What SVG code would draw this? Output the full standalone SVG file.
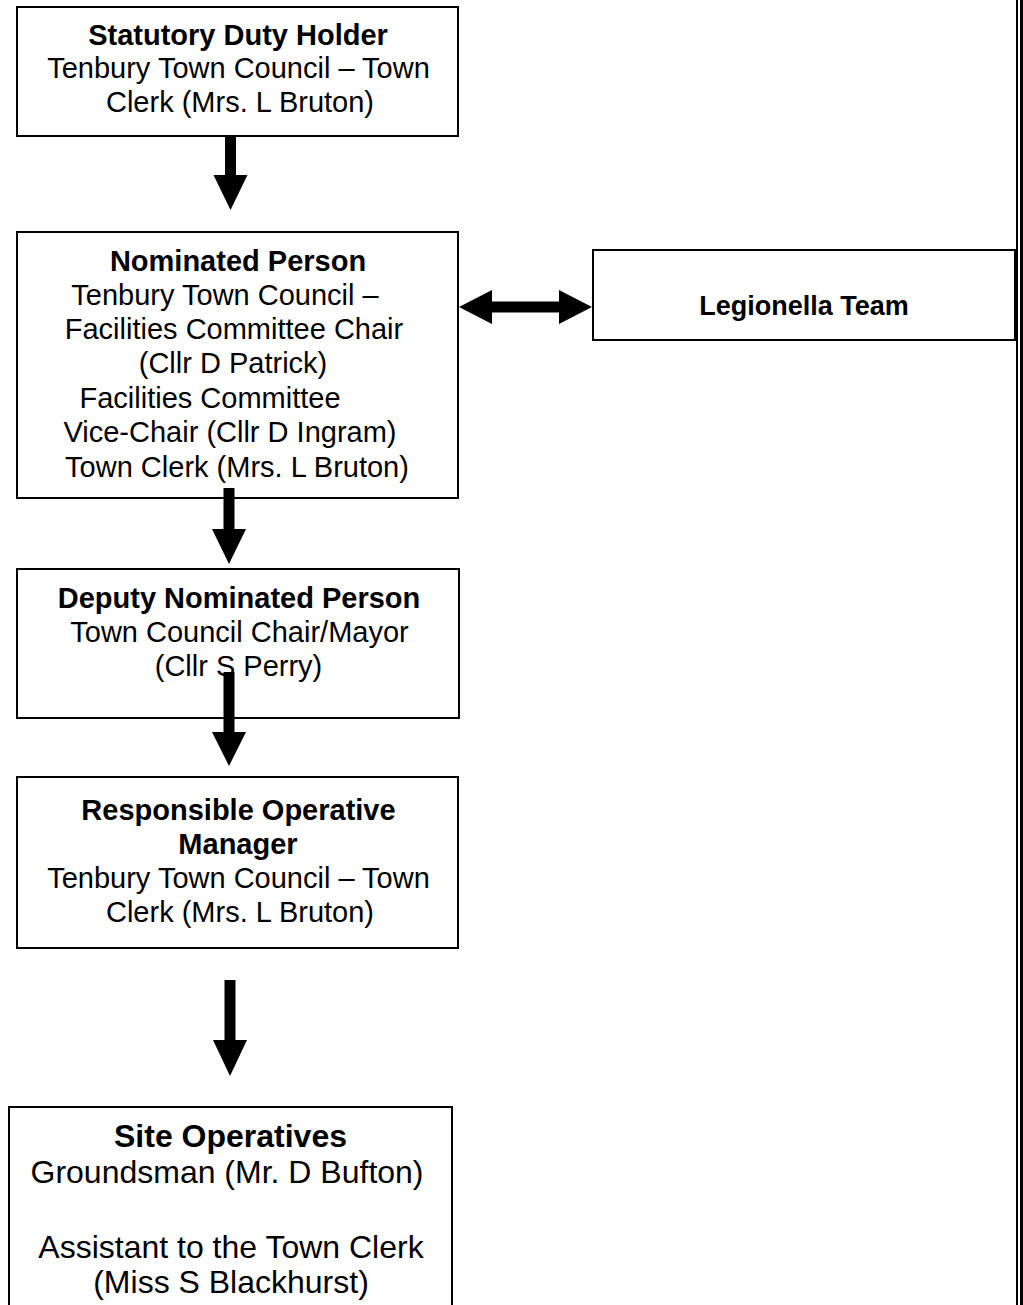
<svg xmlns="http://www.w3.org/2000/svg" width="1023" height="1305" viewBox="0 0 1023 1305">
<style>
.box{fill:#fff;stroke:#000;stroke-width:2}
.t{font-family:"Liberation Sans",Arial,sans-serif;font-size:29px;fill:#000;text-anchor:middle}
.b{font-weight:bold}
.s{font-size:32px}
.arr{fill:#000}
</style>
<rect width="1023" height="1305" fill="#fff"/>
<g id="page-border">
<rect x="1016" y="0" width="2" height="1305" fill="#000"/>
<rect x="1020" y="0" width="3" height="1305" fill="#000"/>
</g>
<g id="node-statutory">
<rect class="box" x="17" y="7" width="441" height="129"/>
<text class="t b" x="238" y="45">Statutory Duty Holder</text>
<text class="t" x="238.5" y="78">Tenbury Town Council – Town</text>
<text class="t" x="240" y="112">Clerk (Mrs. L Bruton)</text>
</g>
<g id="node-nominated">
<rect class="box" x="17" y="232" width="441" height="266"/>
<text class="t b" x="238" y="271">Nominated Person</text>
<text class="t" x="225" y="305">Tenbury Town Council –</text>
<text class="t" x="234" y="339">Facilities Committee Chair</text>
<text class="t" x="233" y="373">(Cllr D Patrick)</text>
<text class="t" x="210" y="408">Facilities Committee</text>
<text class="t" x="230" y="442">Vice-Chair (Cllr D Ingram)</text>
<text class="t" x="237" y="477">Town Clerk (Mrs. L Bruton)</text>
</g>
<g id="node-legionella">
<rect class="box" x="593" y="250" width="422" height="90"/>
<text class="t b" x="804" y="315" style="font-size:27px">Legionella Team</text>
</g>
<g id="node-deputy">
<rect class="box" x="17" y="569" width="442" height="149"/>
<text class="t b" x="239" y="608">Deputy Nominated Person</text>
<text class="t" x="239.5" y="642">Town Council Chair/Mayor</text>
<text class="t" x="238.5" y="676">(Cllr S Perry)</text>
</g>
<g id="node-responsible">
<rect class="box" x="17" y="777" width="441" height="171"/>
<text class="t b" x="238.5" y="820">Responsible Operative</text>
<text class="t b" x="238" y="854">Manager</text>
<text class="t" x="238.5" y="888">Tenbury Town Council – Town</text>
<text class="t" x="240" y="922">Clerk (Mrs. L Bruton)</text>
</g>
<g id="node-site">
<rect class="box" x="9" y="1107" width="443" height="220"/>
<text class="t b s" x="230.5" y="1147">Site Operatives</text>
<text class="t s" x="227" y="1183">Groundsman (Mr. D Bufton)</text>
<text class="t s" x="231" y="1258">Assistant to the Town Clerk</text>
<text class="t s" x="231" y="1293">(Miss S Blackhurst)</text>
</g>
<g id="connectors">
<polygon class="arr" points="225,136 236,136 236,175 247.5,175 230.5,210 213.5,175 225,175"/>
<polygon class="arr" points="223.5,488 234.5,488 234.5,529 246,529 229,564 212,529 223.5,529"/>
<polygon class="arr" points="223.5,672 234.5,672 234.5,732 246,732 229,766 212,732 223.5,732"/>
<polygon class="arr" points="224.5,980 235.5,980 235.5,1040 247,1040 230,1076 213,1040 224.5,1040"/>
<polygon class="arr" points="459,307 492,290 492,301.5 559,301.5 559,290 592,307 559,324 559,312.5 492,312.5 492,324"/>
</g>
</svg>
